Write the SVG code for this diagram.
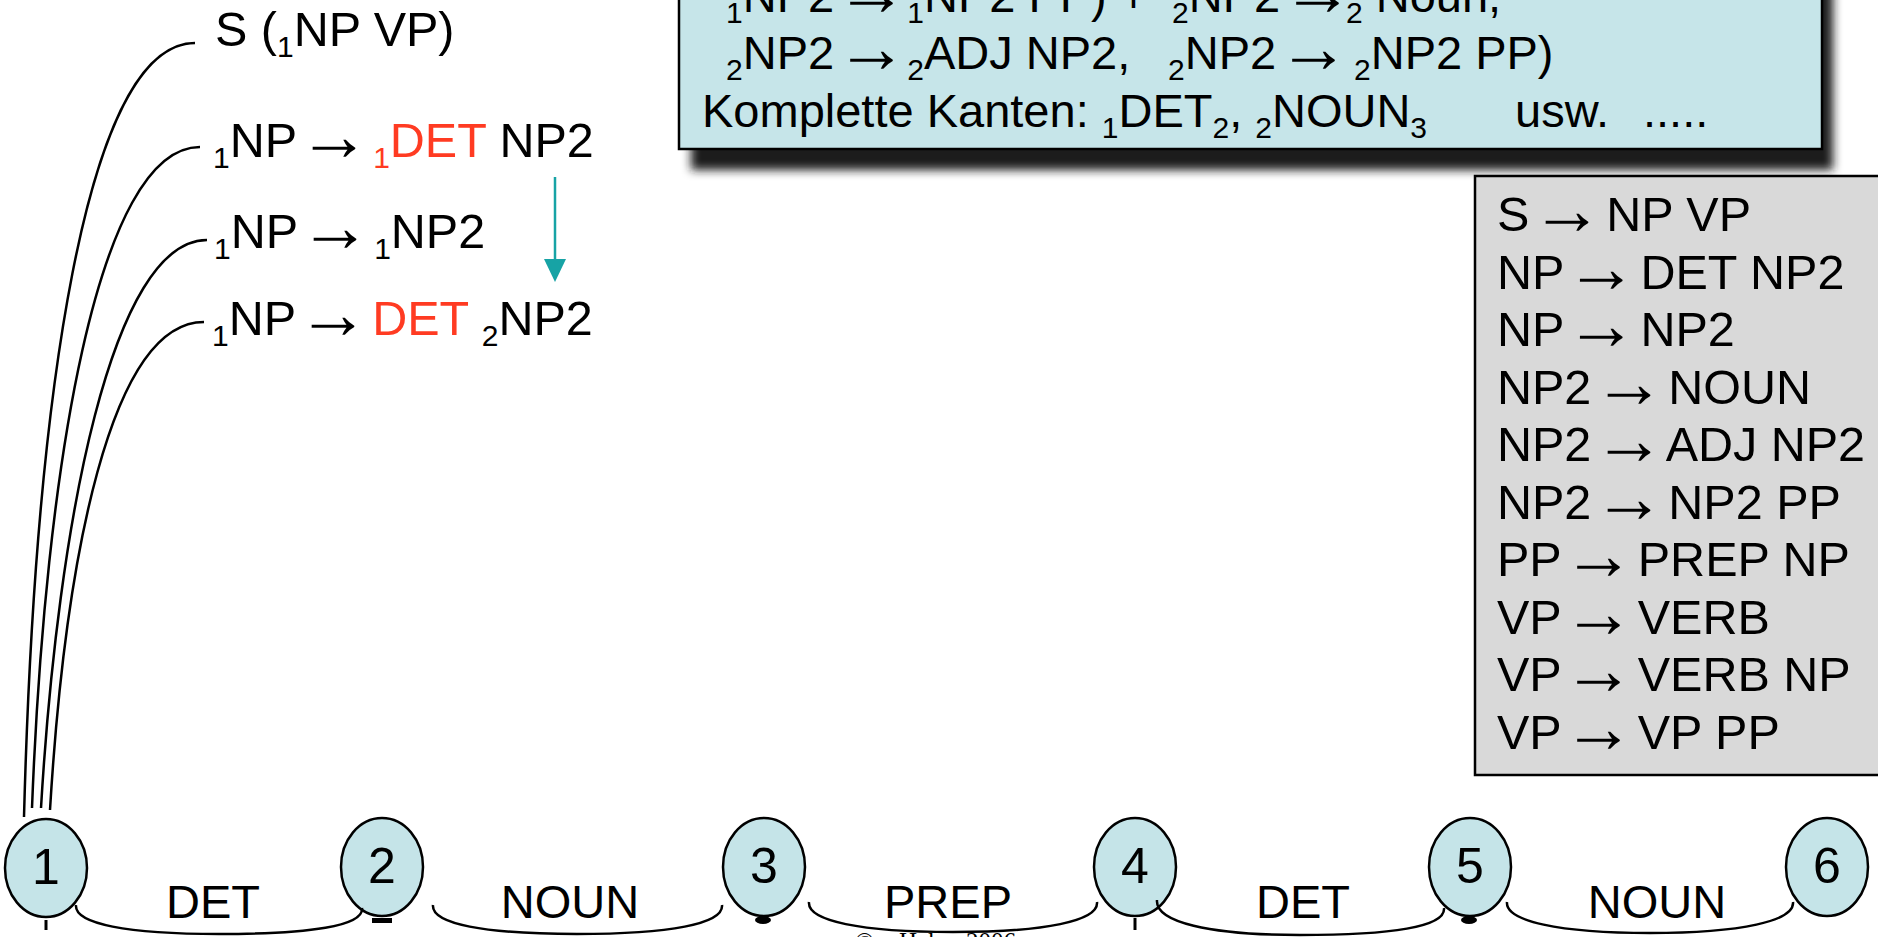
<svg xmlns="http://www.w3.org/2000/svg" width="1878" height="937" viewBox="0 0 1878 937">
  <style>
    .t { font-family: "Liberation Sans", Arial, sans-serif; font-size: 47px; fill: #000; }
    .big { font-size: 48.5px; }
    .sb { font-size: 30px; }
    .ar { font-size: 72px; letter-spacing: -13px; baseline-shift: -3px; }
    .big .ar { letter-spacing: -10px; }
    .red { fill: #ff3b22; }
    .num { font-family: "Liberation Sans", Arial, sans-serif; font-size: 50px; fill: #000; text-anchor: middle; }
    .lbl { font-family: "Liberation Sans", Arial, sans-serif; font-size: 47px; fill: #000; text-anchor: middle; }
    .node { fill: #c5e4e8; stroke: #000; stroke-width: 2.5; }
    .edge { fill: none; stroke: #000; stroke-width: 2.5; }
    .curve { fill: none; stroke: #000; stroke-width: 2.5; }
    .copy { font-family: "Liberation Serif", "Times New Roman", serif; font-size: 25px; fill: #000; }
  </style>
  <defs>
    <filter id="soft" x="-5%" y="-30%" width="110%" height="160%">
      <feGaussianBlur stdDeviation="5"/>
    </filter>
  </defs>

  <rect width="1878" height="937" fill="#fff"/>

  <!-- chart state box (top) -->
  <g id="state-box">
    <rect x="691" y="-20" width="1142" height="190" fill="#1e1e1e" filter="url(#soft)"/>
    <rect x="679" y="-10" width="1143" height="159" fill="#c6e5e9" stroke="#000" stroke-width="2.5"/>
    <text class="t" x="726" y="12"><tspan class="sb" dy="11">1</tspan><tspan dy="-11">NP2 <tspan class="ar" dx="-12">→</tspan> </tspan><tspan class="sb" dy="11">1</tspan><tspan dy="-11">NP2 PP) + </tspan><tspan class="sb" x="1172" dy="11">2</tspan><tspan dy="-11">NP2 <tspan class="ar" dx="-12">→</tspan></tspan><tspan class="sb" x="1346" dy="11">2</tspan><tspan dy="-11"> Noun,</tspan></text>
    <text class="t" x="726" y="69"><tspan class="sb" dy="11">2</tspan><tspan dy="-11">NP2 <tspan class="ar" dx="-12">→</tspan> </tspan><tspan class="sb" dy="11">2</tspan><tspan dy="-11">ADJ NP2,</tspan><tspan class="sb" x="1168" dy="11">2</tspan><tspan dy="-11">NP2 <tspan class="ar" dx="-12">→</tspan> </tspan><tspan class="sb" x="1354" dy="11">2</tspan><tspan dy="-11">NP2 PP)</tspan></text>
    <text class="t" x="702" y="127">Komplette Kanten: <tspan class="sb" dy="11">1</tspan><tspan dy="-11">DET</tspan><tspan class="sb" dy="11">2</tspan><tspan dy="-11">, </tspan><tspan class="sb" dy="11">2</tspan><tspan dy="-11">NOUN</tspan><tspan class="sb" dy="11">3</tspan><tspan x="1515" dy="-11">usw.</tspan><tspan x="1643">.....</tspan></text>
  </g>

  <!-- grammar box (right) -->
  <g id="grammar">
    <rect x="1475" y="176" width="420" height="599" fill="#d9d9d9" stroke="#000" stroke-width="2.5"/>
    <text class="t big" x="1497" y="231">S <tspan class="ar" dx="-12">→</tspan> NP VP</text>
    <text class="t big" x="1497" y="288.5">NP <tspan class="ar" dx="-12">→</tspan> DET NP2</text>
    <text class="t big" x="1497" y="346">NP <tspan class="ar" dx="-12">→</tspan> NP2</text>
    <text class="t big" x="1497" y="403.5">NP2 <tspan class="ar" dx="-12">→</tspan> NOUN</text>
    <text class="t big" x="1497" y="461">NP2 <tspan class="ar" dx="-12">→</tspan> ADJ NP2</text>
    <text class="t big" x="1497" y="518.5">NP2 <tspan class="ar" dx="-12">→</tspan> NP2 PP</text>
    <text class="t big" x="1497" y="576">PP <tspan class="ar" dx="-12">→</tspan> PREP NP</text>
    <text class="t big" x="1497" y="633.5">VP <tspan class="ar" dx="-12">→</tspan> VERB</text>
    <text class="t big" x="1497" y="691">VP <tspan class="ar" dx="-12">→</tspan> VERB NP</text>
    <text class="t big" x="1497" y="748.5">VP <tspan class="ar" dx="-12">→</tspan> VP PP</text>
  </g>

  <!-- active edges starting at vertex 1 -->
  <g id="item-s">
    <text class="t big" x="215" y="46">S (<tspan class="sb" dy="11">1</tspan><tspan dy="-11">NP VP)</tspan></text>
  </g>
  <g id="item-np-det">
    <text class="t big" x="213" y="157"><tspan class="sb" dy="11">1</tspan><tspan dy="-11">NP <tspan class="ar" dx="-12">→</tspan> </tspan><tspan class="sb red" dy="11">1</tspan><tspan class="red" dy="-11">DET</tspan> NP2</text>
  </g>
  <g id="item-np-np2">
    <text class="t big" x="214" y="248"><tspan class="sb" dy="11">1</tspan><tspan dy="-11">NP <tspan class="ar" dx="-12">→</tspan> </tspan><tspan class="sb" dy="11">1</tspan><tspan dy="-11">NP2</tspan></text>
  </g>
  <g id="item-np-det-done">
    <text class="t big" x="212" y="335"><tspan class="sb" dy="11">1</tspan><tspan dy="-11">NP <tspan class="ar" dx="-12">→</tspan> </tspan><tspan class="red">DET</tspan> <tspan class="sb" dy="11">2</tspan><tspan dy="-11">NP2</tspan></text>
  </g>

  <!-- vertices -->
  <g id="v1">
    <ellipse class="node" cx="46" cy="868" rx="41" ry="49"/>
    <text class="num" x="46" y="884">1</text>
    <line x1="46" y1="920" x2="46" y2="930" stroke="#000" stroke-width="3"/>
  </g>
  <g id="v2">
    <ellipse class="node" cx="382" cy="867" rx="41" ry="49"/>
    <text class="num" x="382" y="883">2</text>
    <rect x="372" y="918" width="20" height="5" fill="#000"/>
  </g>
  <g id="v3">
    <ellipse class="node" cx="764" cy="867" rx="41" ry="49"/>
    <text class="num" x="764" y="883">3</text>
    <ellipse cx="763" cy="920" rx="8" ry="4" fill="#000"/>
  </g>
  <g id="v4">
    <ellipse class="node" cx="1135" cy="867" rx="41" ry="49"/>
    <text class="num" x="1135" y="883">4</text>
    <line x1="1135" y1="918" x2="1135" y2="930" stroke="#000" stroke-width="3"/>
  </g>
  <g id="v5">
    <ellipse class="node" cx="1470" cy="867" rx="41" ry="49"/>
    <text class="num" x="1470" y="883">5</text>
    <ellipse cx="1469" cy="920" rx="8" ry="4" fill="#000"/>
  </g>
  <g id="v6">
    <ellipse class="node" cx="1827" cy="867" rx="41" ry="49"/>
    <text class="num" x="1827" y="883">6</text>
  </g>

  <!-- word category labels -->
  <g id="labels">
    <text class="lbl" x="213" y="918">DET</text>
    <text class="lbl" x="570" y="918">NOUN</text>
    <text class="lbl" x="948" y="918">PREP</text>
    <text class="lbl" x="1303" y="918">DET</text>
    <text class="lbl" x="1657" y="918">NOUN</text>
  </g>

  <!-- connectors -->
  <g id="connectors">
    <!-- lexical edges between vertices -->
    <path class="edge" d="M76 905 C74 924 128 934 219 934 C310 934 364 926 362 908"/>
    <path class="edge" d="M433 905 C431 924 485 934 577 934 C669 934 724 924 722 905"/>
    <path class="edge" d="M809 902 C807 921 861 932 953 932 C1045 932 1099 921 1097 902"/>
    <path class="edge" d="M1157 900 C1155 922 1209 935 1300 935 C1391 935 1446 927 1444 908"/>
    <path class="edge" d="M1507 902 C1505 921 1559 933 1650 933 C1741 933 1795 921 1793 902"/>
    <!-- items anchored at vertex 1 -->
    <path class="curve" d="M24 817 C35 400 85 43 195 43"/>
    <path class="curve" d="M32 808 C45 470 97 147 200 147"/>
    <path class="curve" d="M41 808 C58 520 112 240 207 240"/>
    <path class="curve" d="M50 810 C65 560 110 322 204 322"/>
    <!-- transition between items -->
    <line x1="555" y1="177" x2="555" y2="262" stroke="#17a3a5" stroke-width="2.5"/>
    <polygon points="544,259 566,259 555,282" fill="#17a3a5"/>
  </g>

  <!-- footer -->
  <text class="copy" x="855" y="950">©<tspan x="899">Hahn</tspan><tspan x="966">2006</tspan></text>
</svg>
